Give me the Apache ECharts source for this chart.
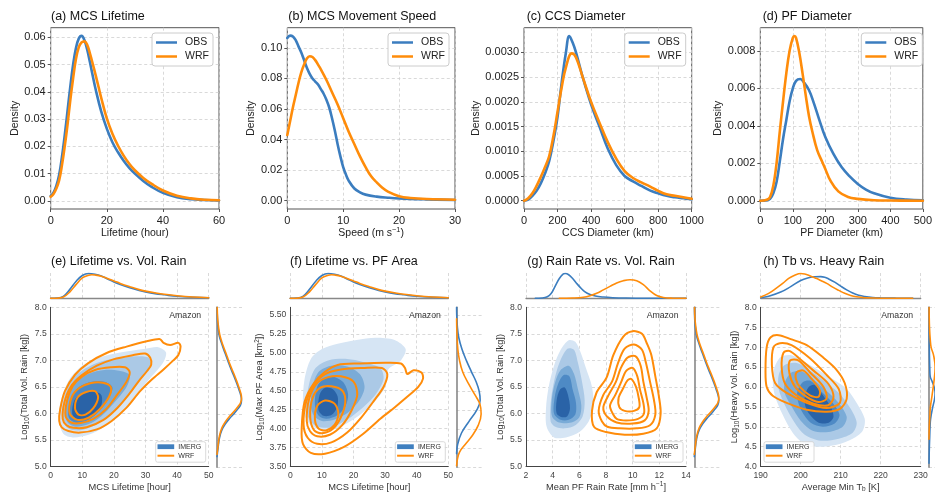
<!DOCTYPE html>
<html><head><meta charset="utf-8">
<script src="https://cdn.jsdelivr.net/npm/echarts@6/dist/echarts.min.js"></script>
<style>html,body{margin:0;padding:0;background:#fff}#c{width:935px;height:494px}</style>
</head><body><div id="c"></div>
<script>
// ---------------- DATA ----------------
// (a) MCS lifetime density [hour, density]
const lifetimeObs = [[0,0.0018],[1,0.003],[2,0.0055],[3,0.0095],[4,0.016],[5,0.024],[6,0.033],[7,0.042],[8,0.050],[9,0.056],[10,0.0595],[11,0.0605],[12,0.059],[13,0.0555],[14,0.0508],[15,0.0458],[16,0.041],[18,0.0328],[20,0.0265],[22,0.0215],[24,0.0178],[26,0.0147],[28,0.0121],[30,0.0100],[33,0.0073],[36,0.0051],[40,0.0029],[45,0.0013],[50,0.0006],[55,0.0003],[60,0.0001]];
const lifetimeWrf = [[0,0.0015],[1,0.0025],[2,0.0045],[3,0.0075],[4,0.013],[5,0.020],[6,0.028],[7,0.037],[8,0.045],[9,0.052],[10,0.0563],[11,0.0581],[12,0.0585],[13,0.0572],[14,0.0540],[15,0.0502],[16,0.0462],[17,0.0420],[18,0.0378],[20,0.0302],[22,0.0246],[24,0.0202],[26,0.0166],[28,0.0136],[30,0.0112],[33,0.0084],[36,0.0062],[40,0.0038],[45,0.0019],[50,0.0009],[55,0.0004],[60,0.0002]];
// (b) movement speed
const speedObs = [[0,0.1065],[0.5,0.108],[1,0.1075],[1.5,0.105],[2,0.101],[2.5,0.097],[3,0.092],[3.5,0.087],[4,0.083],[4.5,0.080],[5,0.078],[5.5,0.076],[6,0.073],[6.5,0.070],[7,0.066],[7.5,0.061],[8,0.054],[8.5,0.046],[9,0.037],[9.5,0.029],[10,0.022],[10.5,0.017],[11,0.013],[12,0.008],[13,0.0055],[14,0.004],[16,0.0027],[18,0.002],[20,0.0015],[25,0.0009],[30,0.0005]];
const speedWrf = [[0,0.043],[0.5,0.052],[1,0.061],[1.5,0.069],[2,0.077],[2.5,0.084],[3,0.089],[3.5,0.093],[4,0.0945],[4.5,0.094],[5,0.092],[5.5,0.089],[6,0.086],[7,0.079],[8,0.071],[9,0.063],[10,0.054],[11,0.045],[12,0.037],[13,0.029],[14,0.022],[15,0.016],[16,0.012],[17,0.0085],[18,0.006],[20,0.003],[22,0.0018],[25,0.0011],[30,0.0007]];
// (c) CCS diameter
const ccsObs = [[0,0],[25,0.00002],[50,0.0001],[75,0.0002],[100,0.00035],[125,0.00055],[150,0.0008],[175,0.0012],[200,0.0017],[225,0.0024],[250,0.0030],[270,0.00333],[290,0.0032],[310,0.003],[350,0.0025],[400,0.00195],[450,0.0015],[500,0.00105],[550,0.00072],[600,0.0005],[650,0.00039],[700,0.0003],[750,0.00021],[800,0.00015],[850,0.0001],[900,0.00007],[950,0.00005],[1000,0.00003]];
const ccsWrf = [[0,0],[25,0.00005],[50,0.00015],[75,0.0003],[100,0.00048],[125,0.00068],[150,0.0009],[175,0.0013],[200,0.0018],[225,0.0023],[250,0.0027],[285,0.00298],[310,0.0029],[350,0.0025],[400,0.002],[450,0.00158],[500,0.00118],[550,0.00085],[600,0.0006],[650,0.00046],[700,0.00037],[750,0.00029],[800,0.0002],[850,0.00013],[900,0.0001],[950,0.00007],[1000,0.00004]];
// (d) PF diameter
const pfObs = [[0,0],[20,0.00003],[30,0.0001],[40,0.0004],[50,0.001],[60,0.0021],[70,0.0033],[80,0.0043],[90,0.0053],[100,0.006],[110,0.0064],[123,0.0065],[135,0.0063],[150,0.0059],[165,0.0052],[180,0.0044],[200,0.0034],[225,0.0025],[250,0.0018],[275,0.0013],[300,0.0009],[325,0.0006],[350,0.0004],[400,0.00016],[450,0.00006],[500,0.00002]];
const pfWrf = [[0,0],[20,0.00005],[30,0.0002],[40,0.0008],[50,0.002],[60,0.0037],[70,0.0053],[80,0.0068],[90,0.008],[100,0.0087],[105,0.0088],[110,0.0087],[120,0.0079],[130,0.0068],[140,0.0056],[150,0.0045],[160,0.0037],[175,0.0027],[190,0.0021],[200,0.0017],[215,0.0011],[240,0.0005],[270,0.0002],[300,0.0001],[350,0.00003],[400,0.00001],[500,0]];

// marginal densities (relative)
const margLifeObs = [[0,0],[2,0.01],[4,0.08],[6,0.35],[8,0.68],[10,0.92],[12,1.0],[14,0.97],[16,0.9],[18,0.78],[20,0.66],[22,0.56],[25,0.43],[28,0.32],[30,0.26],[33,0.19],[36,0.14],[40,0.08],[45,0.04],[50,0.02]];
const margLifeWrf = [[0,0],[2,0.005],[4,0.05],[6,0.25],[8,0.55],[10,0.82],[12,0.93],[13,0.95],[14,0.94],[16,0.89],[18,0.8],[20,0.7],[22,0.6],[25,0.47],[28,0.35],[30,0.29],[33,0.22],[36,0.16],[40,0.1],[45,0.05],[50,0.025]];
const margRateObs = [[2.7,0],[3.2,0.01],[3.6,0.06],[3.9,0.2],[4.2,0.5],[4.5,0.8],[4.8,0.98],[4.95,1.0],[5.2,0.95],[5.5,0.8],[5.8,0.6],[6.1,0.42],[6.4,0.27],[6.8,0.15],[7.2,0.09],[7.8,0.05],[8.5,0.025],[9.5,0.01],[11,0.003],[14,0]];
const margRateWrf = [[4.5,0],[5.5,0.01],[6.3,0.04],[6.8,0.1],[7.3,0.2],[7.8,0.34],[8.3,0.48],[8.8,0.62],[9.3,0.71],[9.8,0.75],[10.3,0.71],[10.8,0.55],[11.3,0.3],[11.8,0.11],[12.3,0.03],[13,0.005],[14,0]];
const margTbObs = [[190,0.02],[192,0.08],[195,0.25],[197.5,0.47],[200,0.72],[202,0.83],[203.5,0.87],[205,0.875],[206,0.85],[207,0.78],[208.5,0.65],[210,0.49],[211.5,0.34],[213,0.21],[214.5,0.12],[216,0.07],[218,0.03],[220,0.015],[224,0.005],[228,0.002]];
const margTbWrf = [[190,0.05],[192,0.2],[194,0.42],[195.5,0.6],[197,0.8],[198.5,0.93],[200,1.0],[201,0.98],[202,0.93],[203,0.86],[204,0.8],[205,0.72],[206.5,0.6],[208,0.45],[209.5,0.32],[211,0.2],[212.5,0.11],[214,0.06],[216,0.025],[220,0.005],[228,0]];
// right marginals: [value, relative density]
const margVolObs = [[5.2,0],[5.35,0.04],[5.55,0.1],[5.7,0.2],[5.82,0.35],[5.92,0.52],[6.01,0.7],[6.1,0.86],[6.17,0.96],[6.26,1.0],[6.35,0.97],[6.45,0.9],[6.58,0.8],[6.7,0.7],[6.82,0.59],[6.95,0.48],[7.08,0.38],[7.2,0.28],[7.32,0.19],[7.45,0.1],[7.6,0.05],[7.75,0.02],[8.0,0.005]];
const margVolWrf = [[5.24,0],[5.39,0.04],[5.59,0.1],[5.74,0.2],[5.86,0.35],[5.96,0.52],[6.05,0.7],[6.14,0.86],[6.21,0.96],[6.3,1.0],[6.39,0.97],[6.49,0.9],[6.62,0.8],[6.74,0.7],[6.86,0.59],[6.99,0.48],[7.12,0.38],[7.24,0.28],[7.36,0.19],[7.49,0.11],[7.64,0.06],[7.8,0.025],[8.0,0.008]];
const margAreaObs = [[3.68,0],[3.8,0.04],[3.95,0.2],[4.1,0.5],[4.25,0.82],[4.38,0.96],[4.5,0.92],[4.62,0.8],[4.75,0.61],[4.9,0.4],[5.05,0.22],[5.2,0.09],[5.35,0.03],[5.5,0.005],[5.6,0]];
const margAreaWrf = [[3.52,0],[3.6,0.03],[3.7,0.12],[3.8,0.35],[3.92,0.65],[4.05,0.88],[4.2,1.0],[4.33,0.95],[4.45,0.75],[4.6,0.48],[4.75,0.25],[4.9,0.12],[5.05,0.05],[5.25,0.015],[5.45,0]];
const margHeavyObs = [[4.1,0],[4.4,0.04],[4.7,0.1],[5.0,0.17],[5.2,0.25],[5.5,0.6],[5.7,0.9],[5.85,1.0],[6.0,0.85],[6.15,0.5],[6.27,0.2],[6.5,0.12],[6.8,0.07],[7.0,0.05],[7.5,0.015],[8,0]];
const margHeavyWrf = [[4.7,0],[4.9,0.03],[5.1,0.08],[5.3,0.15],[5.5,0.22],[5.8,0.5],[6.2,0.85],[6.5,1.0],[6.8,0.75],[7.0,0.35],[7.2,0.2],[7.5,0.08],[7.8,0.03],[8.0,0.01]];

// KDE contours (IMERG filled, light -> dark; WRF lines, outer -> inner)
const eImergFill = [
 [[2.5,5.9],[3.5,6.3],[6,6.65],[10,6.9],[15,7.05],[22,7.15],[30,7.22],[34,7.25],[36.5,7.15],[35.5,6.95],[32,6.7],[27,6.35],[22,6.0],[17,5.75],[12,5.6],[7,5.55],[4,5.62]],
 [[3.5,5.95],[4.5,6.35],[7,6.65],[11,6.85],[16,6.98],[22,7.05],[27,7.08],[31,7.05],[31.5,6.9],[28,6.6],[24,6.3],[19,5.98],[14,5.78],[9,5.68],[5.5,5.72]],
 [[4.5,6.0],[5.5,6.35],[8,6.6],[12,6.75],[17,6.82],[22,6.8],[25,6.72],[24,6.5],[20,6.2],[16,5.95],[12,5.8],[8,5.75],[5.5,5.82]],
 [[5.5,6.0],[6.5,6.3],[9,6.5],[13,6.6],[17,6.6],[19.5,6.5],[18.5,6.3],[15.5,6.05],[12,5.88],[8.5,5.82],[6.2,5.88]],
 [[6.8,6.0],[7.5,6.25],[10,6.38],[13.5,6.42],[16,6.35],[16,6.15],[13.5,5.98],[10.5,5.88],[8,5.9]]
];
const eWrfLine = [
 [[2.7,5.86],[3,6.08],[4.5,6.42],[7.7,6.73],[11.9,6.95],[17.7,7.14],[24,7.26],[30.4,7.36],[34.6,7.4],[35.7,7.33],[37.8,7.29],[40.4,7.33],[41.1,7.26],[40.4,7.1],[38.8,7.0],[35.7,6.83],[32,6.64],[28.3,6.42],[24,6.11],[19.3,5.86],[14.6,5.7],[9.3,5.64],[5.6,5.67],[3.5,5.74]],
 [[3.8,5.9],[4.3,6.2],[6.3,6.5],[9.8,6.72],[14.6,6.9],[19.8,7.02],[26.2,7.1],[29.9,7.13],[31.5,7.05],[31.8,6.92],[30.5,6.8],[28,6.62],[25,6.38],[21,6.1],[16.7,5.88],[11.4,5.74],[7.2,5.73],[5,5.78]],
 [[4.7,5.95],[5.2,6.25],[7,6.52],[10,6.7],[14,6.82],[19,6.87],[23.5,6.87],[25,6.78],[24,6.6],[21,6.35],[17.5,6.08],[13.5,5.9],[9.5,5.82],[6.5,5.83]],
 [[6,6.0],[6.6,6.3],[9,6.48],[12.5,6.57],[16.5,6.58],[19,6.5],[18.5,6.32],[15.5,6.08],[12,5.92],[8.5,5.88]],
 [[7.7,6.1],[8.5,6.3],[11,6.4],[14,6.42],[15,6.3],[13.5,6.1],[11,5.98],[8.8,5.98]]
];
const fImergFill = [
 [[4,4.3],[4.5,4.65],[6.5,4.92],[10,5.05],[15,5.12],[21,5.17],[27,5.2],[33,5.17],[36.5,5.05],[35,4.9],[31,4.78],[30,4.55],[26.5,4.35],[22,4.18],[17,4.05],[12,3.98],[7.5,4.02],[5,4.12]],
 [[5,4.3],[6,4.6],[8,4.8],[12,4.9],[18,4.92],[23,4.88],[28.5,4.8],[29.5,4.65],[27,4.45],[23,4.28],[18,4.12],[13,4.02],[8.5,4.03],[6,4.12]],
 [[6.5,4.3],[7,4.55],[9,4.75],[13,4.83],[18,4.82],[22,4.72],[23.5,4.55],[22,4.38],[18.5,4.22],[14,4.12],[10,4.1],[7.5,4.17]],
 [[7.8,4.3],[8.5,4.55],[11,4.67],[14,4.68],[17,4.6],[18.3,4.45],[17.5,4.3],[15,4.18],[11.5,4.13],[9,4.17]],
 [[8.9,4.25],[9.3,4.45],[11,4.54],[13.5,4.52],[15,4.42],[14.8,4.28],[13,4.18],[10.5,4.17]]
];
const fWrfLine = [
 [[3.6,4.0],[4.5,4.35],[7.5,4.6],[11,4.75],[15,4.84],[22,4.86],[30,4.87],[35,4.86],[36.3,4.8],[37,4.72],[39,4.77],[41.5,4.74],[42,4.66],[40.5,4.55],[37,4.42],[33,4.28],[28.5,4.13],[23,3.93],[17,3.76],[11,3.67],[6.5,3.68],[4,3.8]],
 [[4.2,4.05],[5,4.35],[7.5,4.58],[11,4.72],[16,4.78],[23,4.8],[29,4.8],[30.7,4.72],[29.5,4.55],[26.5,4.37],[22.5,4.15],[18,3.95],[13,3.82],[8.5,3.8],[5.5,3.88]],
 [[5.2,4.1],[6,4.4],[8.5,4.6],[12,4.68],[16,4.69],[20,4.62],[21.2,4.45],[19.5,4.25],[16.5,4.05],[12.5,3.92],[8.5,3.9],[6.2,3.97]],
 [[6.3,4.15],[7,4.4],[9.5,4.54],[13,4.56],[16.5,4.5],[17.4,4.35],[16,4.15],[13.5,4.0],[10,3.94],[7.5,3.98]],
 [[7.8,4.12],[8.5,4.3],[11,4.37],[14,4.33],[15.2,4.2],[14,4.05],[11.5,3.98],[9,4.0]]
];
const gImergFill = [
 [[3.55,5.75],[3.5,6.1],[3.7,6.5],[4.1,6.9],[4.6,7.2],[5.2,7.38],[5.7,7.35],[6.1,7.15],[6.5,6.85],[6.95,6.5],[7.05,6.15],[6.7,5.85],[6,5.65],[5,5.55],[4.1,5.55]],
 [[3.85,5.85],[3.85,6.2],[4.1,6.6],[4.5,6.95],[5.1,7.22],[5.6,7.2],[5.9,6.95],[6.2,6.6],[6.4,6.25],[6.25,5.95],[5.7,5.78],[4.9,5.72],[4.2,5.75]],
 [[3.95,5.95],[3.95,6.3],[4.2,6.6],[4.6,6.82],[5.2,6.9],[5.6,6.75],[5.9,6.45],[6.15,6.15],[6.0,5.93],[5.4,5.83],[4.5,5.83]],
 [[4.1,6.0],[4.15,6.3],[4.4,6.55],[4.8,6.72],[5.25,6.7],[5.5,6.45],[5.75,6.2],[5.7,5.98],[5.2,5.88],[4.6,5.88]],
 [[4.3,6.0],[4.3,6.25],[4.55,6.45],[4.9,6.49],[5.15,6.35],[5.3,6.1],[5.1,5.95],[4.7,5.93]]
];
const gWrfLine = [
 [[7.1,5.75],[6.95,6.05],[7.3,6.4],[8.05,6.68],[8.55,7.1],[9.3,7.45],[10.0,7.55],[10.7,7.5],[11.1,7.3],[11.4,7.1],[11.7,6.7],[11.95,6.35],[12.1,6.0],[11.8,5.72],[10.8,5.62],[9.4,5.6],[8.0,5.65]],
 [[7.7,5.85],[7.45,6.05],[7.8,6.35],[8.45,6.6],[8.9,6.95],[9.4,7.22],[10.1,7.3],[10.7,7.2],[11.0,6.95],[11.3,6.6],[11.6,6.25],[11.7,5.98],[11.3,5.78],[10.3,5.72],[9.0,5.72],[8.1,5.75]],
 [[8.05,5.95],[7.8,6.12],[8.2,6.35],[8.75,6.6],[9.1,6.85],[9.6,7.05],[10.2,7.08],[10.6,6.9],[10.8,6.6],[11.05,6.3],[11.2,6.05],[10.9,5.87],[10.0,5.81],[8.8,5.83]],
 [[8.5,6.0],[8.3,6.15],[8.7,6.35],[9.15,6.6],[9.5,6.8],[10.0,6.86],[10.35,6.7],[10.55,6.45],[10.8,6.2],[10.85,6.0],[10.4,5.9],[9.5,5.87],[8.8,5.9]],
 [[9.0,6.12],[8.95,6.3],[9.3,6.48],[9.6,6.62],[9.9,6.65],[10.25,6.5],[10.45,6.3],[10.5,6.12],[10.1,6.05],[9.4,6.05]]
];
const hImergFill = [
 [[193.5,6.5],[195,6.75],[197.5,6.8],[200.5,6.65],[204,6.45],[208,6.2],[211.5,5.95],[214,5.6],[216,5.2],[215.5,4.9],[213,4.7],[209,4.55],[204,4.5],[200.5,4.6],[198,4.85],[195.5,5.3],[193.5,5.8],[193,6.2]],
 [[194.5,6.3],[196,6.55],[199,6.6],[202.5,6.4],[206.5,6.1],[210,5.8],[212.5,5.45],[214,5.1],[213,4.85],[209.5,4.7],[205,4.65],[201,4.8],[198.5,5.1],[196,5.55],[194.5,5.95]],
 [[196,6.1],[197.5,6.35],[200,6.4],[203,6.2],[206.5,5.9],[209.5,5.6],[211.5,5.25],[210.5,5.0],[207,4.87],[203,4.9],[200,5.15],[197.5,5.55],[196,5.85]],
 [[199.2,5.9],[200.5,6.12],[202.5,6.15],[205,5.9],[208,5.6],[209.7,5.3],[208.5,5.08],[205.5,5.0],[202.5,5.1],[200.2,5.4],[199.2,5.7]],
 [[201,5.75],[202,6.0],[203.5,6.05],[205.5,5.8],[207.5,5.5],[208.2,5.25],[207,5.1],[204.5,5.1],[202.3,5.3],[201.2,5.5]]
];
const hWrfLine = [
 [[191.2,6.4],[191.5,7.0],[192.5,7.25],[194.5,7.3],[197.5,7.2],[201.5,7.05],[205.5,6.75],[208.8,6.45],[211,6.1],[211.5,5.7],[209.8,5.45],[206.5,5.38],[201.5,5.43],[196.5,5.6],[193,5.78],[191.5,6.0]],
 [[192.8,6.55],[193.2,7.0],[194.8,7.1],[197.7,7.05],[202.3,6.72],[206.5,6.3],[209.5,5.95],[209.8,5.6],[206.5,5.47],[201.5,5.6],[196.5,5.85],[193.6,6.1]],
 [[195.25,6.49],[195.7,6.86],[197.3,6.9],[199.8,6.7],[203.2,6.41],[206.9,6.08],[208.2,5.75],[206.9,5.54],[203.2,5.58],[199,5.79],[196.1,6.08]],
 [[197.2,6.33],[197.3,6.66],[199.4,6.67],[202.3,6.37],[205.7,6.0],[206.5,5.71],[204.4,5.62],[201.5,5.75],[198.6,6.0]],
 [[198.8,6.2],[199,6.37],[200.7,6.41],[202.75,6.2],[204.8,5.91],[204.4,5.75],[202.3,5.79],[199.8,6.0]]
];

// tick values
const ticksA_x = [0,20,40,60], ticksA_y = [0,0.01,0.02,0.03,0.04,0.05,0.06];
const ticksB_x = [0,10,20,30], ticksB_y = [0,0.02,0.04,0.06,0.08,0.10];
const ticksC_x = [0,200,400,600,800,1000], ticksC_y = [0,0.0005,0.001,0.0015,0.002,0.0025,0.003];
const ticksD_x = [0,100,200,300,400,500], ticksD_y = [0,0.002,0.004,0.006,0.008];
const ticksLife = [0,10,20,30,40,50];
const ticksVol = [5,5.5,6,6.5,7,7.5,8];
const ticksArea = [3.5,3.75,4,4.25,4.5,4.75,5,5.25,5.5];
const ticksRate = [2,4,6,8,10,12,14];
const ticksTb = [190,200,210,220,230];
const ticksHeavy = [4,4.5,5,5.5,6,6.5,7,7.5,8];

// ---------------- STYLE / LAYOUT ----------------
const FONT = "'Liberation Sans', Arial, Helvetica, sans-serif";
const C_OBS = '#3b7dbf', C_WRF = '#ff8c0a';
const BLUES = ['#d6e5f4','#abc9e6','#7aabd7','#4e8ac5','#2a63a7'];
const richFor = (size, color) => ({
  sup:{fontSize:size*0.7, lineHeight:size*0.8, verticalAlign:'top', fontFamily:FONT, color:color},
  sub:{fontSize:size*0.7, lineHeight:size*0.8, verticalAlign:'bottom', fontFamily:FONT, color:color}
});
const gridLine = {show:true, lineStyle:{color:'#cfcfcf', type:[3,2.5], width:0.8}};

const topRow = [
 {t:'(a) MCS Lifetime', tl:51, l:50.7, w:168.3, xr:[0,60], xt:ticksA_x, yr:[-0.003,0.0635], yt:ticksA_y, yd:2, xn:'Lifetime (hour)', yg:30, o:lifetimeObs, r:lifetimeWrf},
 {t:'(b) MCS Movement Speed', tl:288.3, l:287.3, w:167.7, xr:[0,30], xt:ticksB_x, yr:[-0.0054,0.1132], yt:ticksB_y, yd:2, xn:'Speed (m s{sup|\u22121})', yg:28.5, o:speedObs, r:speedWrf},
 {t:'(c) CCS Diameter', tl:526.7, l:524, w:167.7, xr:[0,1000], xt:ticksC_x, yr:[-0.000167,0.0035], yt:ticksC_y, yd:4, xn:'CCS Diameter (km)', yg:40, o:ccsObs, r:ccsWrf},
 {t:'(d) PF Diameter', tl:762.7, l:760.3, w:168, xr:[0,500], xt:ticksD_x, yr:[-0.00044,0.00924], yt:ticksD_y, yd:3, xn:'PF Diameter (km)', yg:35, o:pfObs, r:pfWrf}
];
const botRow = [
 {t:'(e) Lifetime vs. Vol. Rain', tl:51, l:50.7, w:158, xr:[0,50], xt:ticksLife, yr:[5,8], yt:ticksVol, yd:1, xn:'MCS Lifetime [hour]', yn:'Log{sub|10}(Total Vol. Rain [kg])', yg:17.5,
  fills:eImergFill, lines:eWrfLine, to:margLifeObs, tr:margLifeWrf, ro:margVolObs, rr:margVolWrf, legLeft:false},
 {t:'(f) Lifetime vs. PF Area', tl:290, l:290.3, w:158, xr:[0,50], xt:ticksLife, yr:[3.5,5.6], yt:ticksArea, yd:2, xn:'MCS Lifetime [hour]', yn:'Log{sub|10}(Max PF Area [km{sup|2}])', yg:21,
  fills:fImergFill, lines:fWrfLine, to:margLifeObs, tr:margLifeWrf, ro:margAreaObs, rr:margAreaWrf, legLeft:false},
 {t:'(g) Rain Rate vs. Vol. Rain', tl:527.3, l:526, w:160, xr:[2,14], xt:ticksRate, yr:[5,8], yt:ticksVol, yd:1, xn:'Mean PF Rain Rate [mm h{sup|\u22121}]', yn:'Log{sub|10}(Total Vol. Rain [kg])', yg:19,
  fills:gImergFill, lines:gWrfLine, to:margRateObs, tr:margRateWrf, ro:margVolObs, rr:margVolWrf, legLeft:false},
 {t:'(h) Tb vs. Heavy Rain', tl:763.3, l:760.7, w:160, xr:[190,230], xt:ticksTb, yr:[4,8], yt:ticksHeavy, yd:1, xn:'Average Min T{sub|b} [K]', yn:'Log{sub|10}(Heavy Vol. Rain [kg])', yg:19,
  fills:hImergFill, lines:hWrfLine, to:margTbObs, tr:margTbWrf, ro:margHeavyObs, rr:margHeavyWrf, legLeft:true}
];

const grids=[], xAxes=[], yAxes=[], series=[], graphics=[];
function addGrid(g){ grids.push(g); return grids.length-1; }
function lineSeries(gi, data, color, width){
  return {type:'line', xAxisIndex:gi, yAxisIndex:gi, data:data, showSymbol:false, symbol:'none', smooth:0.4,
    lineStyle:{color:color, width:width, cap:'round', join:'round'}, itemStyle:{color:color}, silent:true, animation:false, clip:true};
}
function contourSeries(gi, polys, filled){
  return {type:'custom', xAxisIndex:gi, yAxisIndex:gi, coordinateSystem:'cartesian2d', silent:true, animation:false, clip:true,
    data: polys.map((p,i)=>[p[0][0], p[0][1], i]),
    renderItem: function(params, api){
      const i = api.value(2);
      const pts = polys[i].map(pt => api.coord(pt));
      return {type:'polygon', shape:{points:pts, smooth:0.3},
        style: filled ? {fill:BLUES[i], stroke:null} : {fill:null, stroke:C_WRF, lineWidth:2, lineJoin:'round'}};
    }};
}
function txt(x, y, text, size, color, align, extra){
  return Object.assign({type:'text', x:x, y:y, z:100, silent:true, style:{text:text, fontSize:size, fill:color, fontFamily:FONT, align:align||'left', verticalAlign:'middle'}}, extra||{});
}

// ---- top row
const TOP_T = 27.7, TOP_H = 181.3;
topRow.forEach(p => {
  const gi = addGrid({left:p.l, top:TOP_T, width:p.w, height:TOP_H, show:true, borderColor:'#555', borderWidth:1, backgroundColor:'rgba(0,0,0,0)'});
  xAxes.push({gridIndex:gi, type:'value', min:p.xr[0], max:p.xr[1],
    axisLine:{show:false, onZero:false}, axisTick:{show:true, length:3, customValues:p.xt, lineStyle:{color:'#555'}},
    axisLabel:{customValues:p.xt, fontSize:11, color:'#222', fontFamily:FONT, margin:6, formatter:v=>String(Math.round(v))},
    splitLine:gridLine, name:p.xn, nameLocation:'middle', nameGap:16,
    nameTextStyle:{fontSize:10.5, color:'#222', fontFamily:FONT, lineHeight:13, rich:richFor(10.5,'#222')}});
  yAxes.push({gridIndex:gi, type:'value', min:p.yr[0], max:p.yr[1],
    axisLine:{show:false, onZero:false}, axisTick:{show:true, length:3, customValues:p.yt, lineStyle:{color:'#555'}},
    axisLabel:{customValues:p.yt, fontSize:11, color:'#222', fontFamily:FONT, margin:5, formatter:v=>v.toFixed(p.yd)},
    splitLine:gridLine, name:'Density', nameLocation:'middle', nameGap:p.yg,
    nameTextStyle:{fontSize:10.5, color:'#222', fontFamily:FONT}});
  series.push(lineSeries(gi, p.o, C_OBS, 2.6));
  series.push(lineSeries(gi, p.r, C_WRF, 2.6));
  graphics.push(txt(p.tl, 17, p.t, 12.5, '#111'));
  // legend
  const bl = p.l + p.w - 67;
  graphics.push({type:'rect', z:100, silent:true, shape:{x:bl, y:33, width:61, height:33, r:3}, style:{fill:'#fff', stroke:'#cccccc', lineWidth:1}});
  graphics.push({type:'line', z:101, silent:true, shape:{x1:bl+4, y1:42.5, x2:bl+25, y2:42.5}, style:{stroke:C_OBS, lineWidth:2.5}});
  graphics.push({type:'line', z:101, silent:true, shape:{x1:bl+4, y1:56.5, x2:bl+25, y2:56.5}, style:{stroke:C_WRF, lineWidth:2.5}});
  graphics.push(txt(bl+33, 42.5, 'OBS', 10.5, '#222', 'left', {z:101}));
  graphics.push(txt(bl+33, 56.5, 'WRF', 10.5, '#222', 'left', {z:101}));
});

// ---- bottom row
const B_T = 307.3, B_H = 160, M_T = 273, M_H = 25.3, R_GAP = 8.3, R_W = 26;
botRow.forEach(p => {
  // main
  const gi = addGrid({left:p.l, top:B_T, width:p.w, height:B_H, show:false});
  xAxes.push({gridIndex:gi, type:'value', min:p.xr[0], max:p.xr[1],
    axisLine:{show:true, onZero:false, lineStyle:{color:'#444', width:1}}, axisTick:{show:false, customValues:p.xt},
    axisLabel:{customValues:p.xt, fontSize:8.6, color:'#444', fontFamily:FONT, margin:4.5, formatter:v=>String(Math.round(v))},
    splitLine:gridLine, name:p.xn, nameLocation:'middle', nameGap:12,
    nameTextStyle:{fontSize:9.3, color:'#333', fontFamily:FONT, lineHeight:12, rich:richFor(9.3,'#333')}});
  yAxes.push({gridIndex:gi, type:'value', min:p.yr[0], max:p.yr[1],
    axisLine:{show:true, onZero:false, lineStyle:{color:'#444', width:1}}, axisTick:{show:false, customValues:p.yt},
    axisLabel:{customValues:p.yt, fontSize:8.6, color:'#444', fontFamily:FONT, margin:4, formatter:v=>v.toFixed(p.yd)},
    splitLine:gridLine, name:p.yn, nameLocation:'middle', nameGap:p.yg,
    nameTextStyle:{fontSize:9.3, color:'#333', fontFamily:FONT, lineHeight:12, rich:richFor(9.3,'#333')}});
  series.push(contourSeries(gi, p.fills, true));
  series.push(contourSeries(gi, p.lines, false));
  // top marginal
  const gt = addGrid({left:p.l, top:M_T, width:p.w, height:M_H, show:false});
  xAxes.push({gridIndex:gt, type:'value', min:p.xr[0], max:p.xr[1],
    axisLine:{show:true, onZero:false, lineStyle:{color:'#888', width:1.3}}, axisTick:{show:false, customValues:p.xt},
    axisLabel:{show:false}, splitLine:gridLine});
  yAxes.push({gridIndex:gt, type:'value', min:0, max:1.02, show:false});
  series.push(lineSeries(gt, p.to, C_OBS, 1.6));
  series.push(lineSeries(gt, p.tr, C_WRF, 1.6));
  // right marginal
  const gr = addGrid({left:p.l + p.w + R_GAP, top:B_T, width:R_W, height:B_H, show:false});
  xAxes.push({gridIndex:gr, type:'value', min:0, max:1.06, show:false});
  yAxes.push({gridIndex:gr, type:'value', min:p.yr[0], max:p.yr[1],
    axisLine:{show:true, onZero:false, lineStyle:{color:'#888', width:1.6}}, axisTick:{show:false, customValues:p.yt},
    axisLabel:{show:false}, splitLine:gridLine});
  series.push(lineSeries(gr, p.ro.map(d=>[d[1], d[0]]), C_OBS, 1.6));
  series.push(lineSeries(gr, p.rr.map(d=>[d[1], d[0]]), C_WRF, 1.6));
  // title + annotation
  graphics.push(txt(p.tl, 262, p.t, 12.5, '#111'));
  graphics.push(txt(p.l + p.w - 7.5, B_T + 8.5, 'Amazon', 8.7, '#333', 'right'));
  // legend
  const bl = p.legLeft ? p.l + 3.3 : p.l + p.w - 53;
  const bt = B_T + B_H - 25.6;
  graphics.push({type:'rect', z:100, silent:true, shape:{x:bl, y:bt, width:50, height:20.5, r:2}, style:{fill:'rgba(255,255,255,0.85)', stroke:'#d0d0d0', lineWidth:0.8}});
  graphics.push({type:'rect', z:101, silent:true, shape:{x:bl+1.8, y:bt+2.6, width:16.7, height:4.8}, style:{fill:'#3f7fbf'}});
  graphics.push({type:'line', z:101, silent:true, shape:{x1:bl+1.8, y1:bt+14, x2:bl+18.5, y2:bt+14}, style:{stroke:C_WRF, lineWidth:2}});
  graphics.push(txt(bl+22.6, bt+5, 'IMERG', 7, '#333', 'left', {z:101}));
  graphics.push(txt(bl+22.6, bt+14, 'WRF', 7, '#333', 'left', {z:101}));
});

const chart = echarts.init(document.getElementById('c'), null, {renderer:'canvas', width:935, height:494});
chart.setOption({
  backgroundColor:'#ffffff', animation:false,
  textStyle:{fontFamily:FONT},
  grid:grids, xAxis:xAxes, yAxis:yAxes, series:series, graphic:{elements:graphics}
});
</script></body></html>
